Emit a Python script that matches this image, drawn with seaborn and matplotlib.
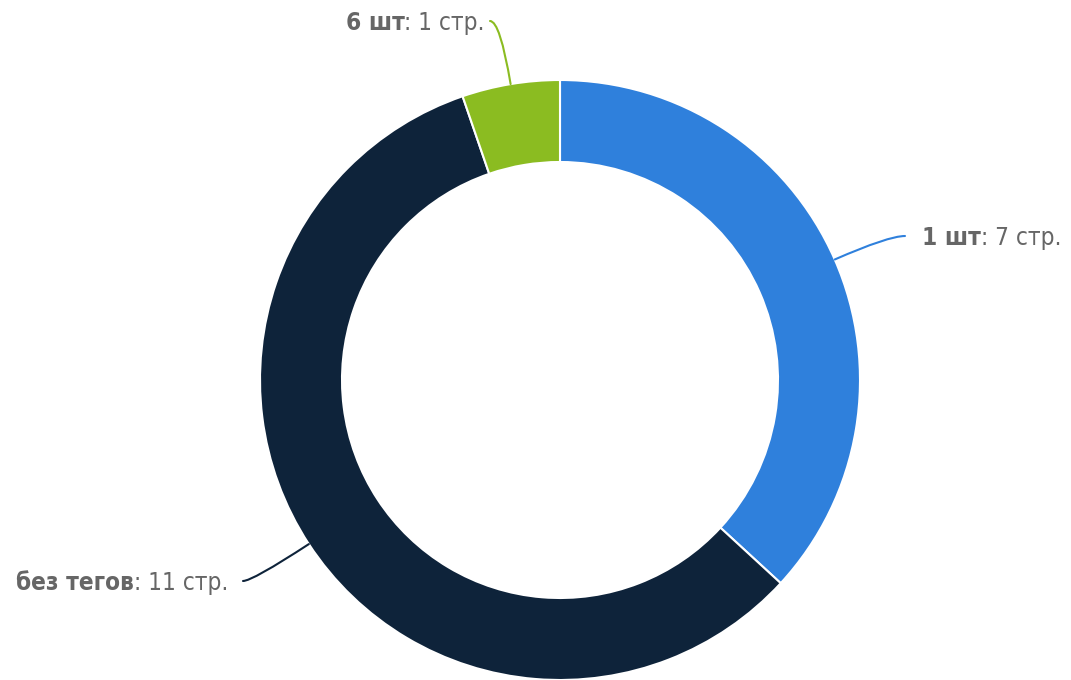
import numpy as np
import matplotlib
matplotlib.use("Agg")
import matplotlib.pyplot as plt
import seaborn as sns

# data
labels = ["1 шт", "без тегов", "6 шт"]
counts = [7, 11, 1]
colors = ["#2f80dc", "#0e233a", "#8bbc21"]

sns.set_style("white")
plt.rcParams['font.family'] = ['DejaVu Sans']

fig = plt.figure(figsize=(10.71, 6.8), dpi=100)
ax = fig.add_axes([0, 0, 1, 1])

cx, cy, R = 560, 300, 300
wedges, _ = ax.pie(counts, colors=colors, startangle=90, counterclock=False,
                   center=(cx, cy), radius=R,
                   wedgeprops=dict(width=82, edgecolor="white", linewidth=1.5))
ax.set_xlim(0, 1071)
ax.set_ylim(0, 680)
ax.set_aspect("equal")
ax.axis("off")

# connector end, text gap (pixels, y up)
label_pos = [(905, 444, 17, "left"), (243, 99, 15, "right"), (490, 659, 5, "right")]
txt_color = "#666666"
fs = 17.5
font = dict(fontsize=fs, fontstretch="condensed", color=txt_color)

for w, lab, n, (lx, ly, gap, side) in zip(wedges, labels, counts, label_pos):
    mid_deg = (w.theta1 + w.theta2) / 2
    mid = np.deg2rad(mid_deg)
    px, py = cx + R * np.cos(mid), cy + R * np.sin(mid)
    ax.annotate("", xy=(px, py), xytext=(lx, ly),
                arrowprops=dict(arrowstyle="-", color=w.get_facecolor(), lw=1.5,
                                connectionstyle=f"angle3,angleA=0,angleB={mid_deg}",
                                shrinkA=0, shrinkB=0))
    if side == "left":
        t1 = ax.text(lx + gap, ly - 2, lab, fontweight="bold", ha="left", va="center", **font)
        ax.annotate(f": {n} стр.", xy=(1, 0), xycoords=t1, ha="left", va="bottom", **font)
    else:
        t2 = ax.text(lx - gap, ly - 2, f": {n} стр.", ha="right", va="center", **font)
        ax.annotate(lab, xy=(0, 0), xycoords=t2, fontweight="bold",
                    ha="right", va="bottom", **font)

fig.savefig("out.png", dpi=100, facecolor="white")
